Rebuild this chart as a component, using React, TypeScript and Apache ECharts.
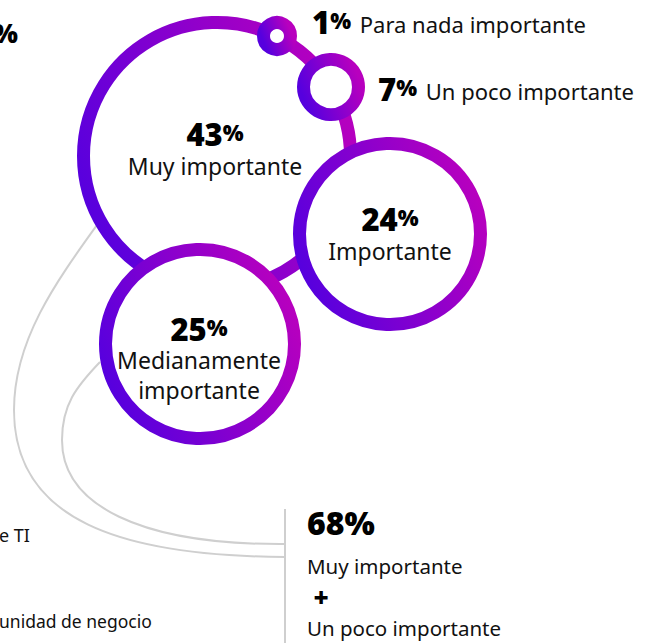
import React, { useEffect, useRef } from 'react';
import * as echarts from 'echarts';

// ---- data ----
const categories = ['Muy importante', 'Importante', 'Medianamente importante', 'Un poco importante', 'Para nada importante'];
const values = [43, 24, 25, 7, 1];
const summaryValue = 68;
const summaryParts = ['Muy importante', 'Un poco importante'];
const sideTexts = ['%', 'e TI', 'unidad de negocio'];

// ---- layout (positions in the hidden axis space, 1 unit = 1 px) ----
const bubbleX = [217, 390, 200, 331, 277];
const bubbleY = [156, 234, 344, 87, 36];
const bubbleR = [133.5, 90.5, 94.5, 27.5, 13.5];
const labelInside = [true, true, true, false, false];
const labelWrap = [false, false, true, false, false];
const pctDx = [-2, 0, -1, 47, 35];
const pctDy = [-22, -15.5, -15.5, 2, -14.5];
const descDy = [9.5, 17, 16, 0, 0];
const DESC_LINE_GAP = 30;

const FONT = '"Noto Sans", "Open Sans", sans-serif';
const BLUE = '#5600DE';
const MAGENTA = '#B800BE';
const GRAY = '#cfcfcf';
const INK = '#111111';

function ringGradient() {
  return new echarts.graphic.LinearGradient(0, 0.7, 1, 0.3, [
    { offset: 0, color: BLUE },
    { offset: 1, color: MAGENTA },
  ]);
}

export default function App() {
  const ref = useRef<HTMLDivElement>(null);

  useEffect(() => {
    document.body.style.margin = '0';
    if (!ref.current) return;
    const chart = echarts.init(ref.current, null, { renderer: 'svg' });

    const data = values.map((v, i) => [bubbleX[i], bubbleY[i], bubbleR[i], v]);

    const pctRich = {
      n: { fontSize: 31, fontWeight: 900, fontFamily: FONT, lineHeight: 26, fill: '#000' },
      p: { fontSize: 22, fontWeight: 900, fontFamily: FONT, lineHeight: 20, verticalAlign: 'top', fill: '#000' },
      d: { fontSize: 22, fontWeight: 'normal', fontFamily: FONT, lineHeight: 20, verticalAlign: 'bottom', fill: INK, padding: [0, 0, 0, 3] },
    };

    const option: any = {
      animation: false,
      grid: { left: 0, right: 0, top: 0, bottom: 0 },
      xAxis: { type: 'value', min: 0, max: 657, show: false },
      yAxis: { type: 'value', min: 0, max: 643, inverse: true, show: false },
      graphic: [
        // connector curves
        {
          type: 'bezierCurve',
          shape: { x1: 97, y1: 225, cpx1: 56, cpy1: 282, cpx2: 14, cpy2: 340, x2: 14, y2: 410 },
          style: { stroke: GRAY, lineWidth: 2, fill: 'none' },
        },
        {
          type: 'bezierCurve',
          shape: { x1: 14, y1: 410, cpx1: 14, cpy1: 520, cpx2: 120, cpy2: 556, x2: 285, y2: 557 },
          style: { stroke: GRAY, lineWidth: 2, fill: 'none' },
        },
        {
          type: 'bezierCurve',
          shape: { x1: 100, y1: 362, cpx1: 76, cpy1: 387, cpx2: 62, cpy2: 405, x2: 62, y2: 440 },
          style: { stroke: GRAY, lineWidth: 2, fill: 'none' },
        },
        {
          type: 'bezierCurve',
          shape: { x1: 62, y1: 440, cpx1: 62, cpy1: 505, cpx2: 140, cpy2: 545, x2: 285, y2: 544 },
          style: { stroke: GRAY, lineWidth: 2, fill: 'none' },
        },
        {
          type: 'line',
          shape: { x1: 285, y1: 509, x2: 285, y2: 643 },
          style: { stroke: GRAY, lineWidth: 2 },
        },
        // summary block
        {
          type: 'text', x: 307, y: 522.5,
          style: { text: summaryValue + '%', fontSize: 32, fontWeight: 900, fontFamily: FONT, fill: '#000', align: 'left', verticalAlign: 'middle' },
        },
        {
          type: 'text', x: 307, y: 565.5,
          style: { text: summaryParts[0], fontSize: 20.5, fontFamily: FONT, fill: INK, align: 'left', verticalAlign: 'middle' },
        },
        {
          type: 'text', x: 321, y: 596.5,
          style: { text: '+', fontSize: 26, fontWeight: 900, fontFamily: FONT, fill: '#000', align: 'center', verticalAlign: 'middle' },
        },
        {
          type: 'text', x: 307, y: 627.5,
          style: { text: summaryParts[1], fontSize: 20.5, fontFamily: FONT, fill: INK, align: 'left', verticalAlign: 'middle' },
        },
        // cut-off texts from the neighbouring panel
        {
          type: 'text', x: 18, y: 32.5,
          style: { text: sideTexts[0], fontSize: 26, fontWeight: 900, fontFamily: FONT, fill: '#000', align: 'right', verticalAlign: 'middle' },
        },
        {
          type: 'text', x: -1, y: 535,
          style: { text: sideTexts[1], fontSize: 18, fontFamily: FONT, fill: INK, align: 'left', verticalAlign: 'middle' },
        },
        {
          type: 'text', x: -1, y: 620.5,
          style: { text: sideTexts[2], fontSize: 17.5, fontFamily: FONT, fill: INK, align: 'left', verticalAlign: 'middle' },
        },
      ],
      series: [
        {
          type: 'custom',
          coordinateSystem: 'cartesian2d',
          encode: { x: 0, y: 1 },
          data,
          renderItem: (params: any, api: any) => {
            const i = params.dataIndex;
            const c = api.coord([api.value(0), api.value(1)]);
            const r = api.size([api.value(2), 0])[0];
            const v = api.value(3);
            const children: any[] = [
              {
                type: 'circle',
                shape: { cx: c[0], cy: c[1], r },
                style: { fill: '#ffffff', stroke: ringGradient(), lineWidth: 13 },
              },
            ];
            if (labelInside[i]) {
              children.push({
                type: 'text',
                x: c[0] + pctDx[i],
                y: c[1] + pctDy[i],
                style: { text: `{n|${v}}{p|%}`, rich: pctRich, align: 'center', verticalAlign: 'middle' },
              });
              const lines = labelWrap[i] ? categories[i].split(' ') : [categories[i]];
              lines.forEach((ln, k) => {
                children.push({
                  type: 'text',
                  x: c[0] + pctDx[i],
                  y: c[1] + descDy[i] + k * DESC_LINE_GAP,
                  style: {
                    text: ln, fontSize: 23, fontFamily: FONT, fill: INK,
                    lineHeight: 23, align: 'center', verticalAlign: 'middle',
                  },
                });
              });
            } else {
              children.push({
                type: 'text',
                x: c[0] + pctDx[i],
                y: c[1] + pctDy[i],
                style: {
                  text: `{n|${v}}{p|%}{d| ${categories[i]}}`,
                  rich: pctRich, align: 'left', verticalAlign: 'middle',
                },
              });
            }
            return { type: 'group', children };
          },
        },
      ],
    };

    chart.setOption(option);
    return () => chart.dispose();
  }, []);

  return <div ref={ref} style={{ width: 657, height: 643 }} />;
}
